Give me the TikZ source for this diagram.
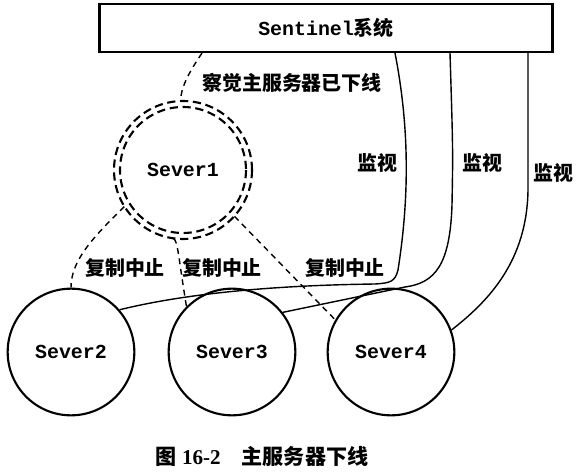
\documentclass[tikz,border=0pt]{standalone}
\usepackage{fontspec}
\setmainfont{Liberation Serif}
\setmonofont{Liberation Mono}
\newfontfamily\cjk{Noto Sans CJK SC}

\begin{document}
\begin{tikzpicture}[x = 0.03cm, y = -0.03cm,
                    server/.style = {circle, draw, line width = 1.8pt, minimum size = 3.8cm, inner sep = 0pt, font = \ttfamily\bfseries\fontsize{17}{20}\selectfont},
                    master/.style = {circle, minimum size = 4.14cm, inner sep = 0pt, font = \ttfamily\bfseries\fontsize{17}{20}\selectfont},
                    ring/.style   = {line width = 1.8pt, dash pattern = on 7pt off 4pt},
                    link/.style   = {line width = 1.2pt},
                    lost/.style   = {line width = 1.2pt, dash pattern = on 5pt off 4pt},
                    tag/.style    = {inner sep = 1pt, font = \cjk\bfseries\fontsize{17}{20}\selectfont}
                    ]
    \useasboundingbox (0, 0) rectangle (580, 475);

    \node[draw, line width = 1.8pt, minimum width = 13.59cm, minimum height = 1.44cm, inner sep = 0pt,
          font = \bfseries\fontsize{17}{20}\selectfont] (sentinel) at (326, 28) {\ttfamily Sentinel\cjk 系统};

    \node[master] (s1) at (183, 170) {Sever1};
    \node[server] (s2) at (71, 352) {Sever2};
    \node[server] (s3) at (232, 352) {Sever3};
    \node[server] (s4) at (391, 352) {Sever4};

    % Sever1 has gone offline
    \draw[ring] (s1.center) circle [radius = 63];
    \draw[ring] (s1.center) circle [radius = 69];

    \draw[lost] ([xshift = -3.72cm]sentinel.south) .. controls (192, 68) and (181, 85) .. (s1.92);
    \node[tag] (found) at (292, 83) {察觉主服务器已下线};

    \draw[lost] (s1.212) .. controls (90, 240) and (71, 262) .. (s2.north);
    \draw[lost] (s1.262) .. controls (178, 241) and (178, 255) .. (s3.135);
    \draw[lost] (s1.-42) -- (s4.150);
    \node[tag] (stop2) at (125, 268) {复制中止};
    \node[tag] (stop3) at (222, 268) {复制中止};
    \node[tag] (stop4) at (345, 268) {复制中止};

    \draw[link] ([xshift = 2.07cm]sentinel.south) .. controls (410, 130) and (409, 200) .. (398, 270)
                .. controls (395, 282) and (390, 283) .. (375, 284)
                .. controls (300, 285) and (200, 290) .. (s2.41);
    \draw[link] ([xshift = 3.72cm]sentinel.south) .. controls (453, 150) .. (452, 205)
                .. controls (450, 265) and (435, 283) .. (405, 287) -- (s3.38);
    \draw[link] ([xshift = 6.06cm]sentinel.south) -- (528, 190) .. controls (527, 260) and (490, 300) .. (s4.20);
    \node[tag] (watch2) at (377, 163) {监视};
    \node[tag] (watch3) at (482, 163) {监视};
    \node[tag] (watch4) at (553, 173) {监视};

    \node[font = \bfseries\fontsize{18}{20}\selectfont] (caption) at (262, 456)
        {{\cjk 图} 16-2\hspace{1em}{\cjk 主服务器下线}};
\end{tikzpicture}
\end{document}
